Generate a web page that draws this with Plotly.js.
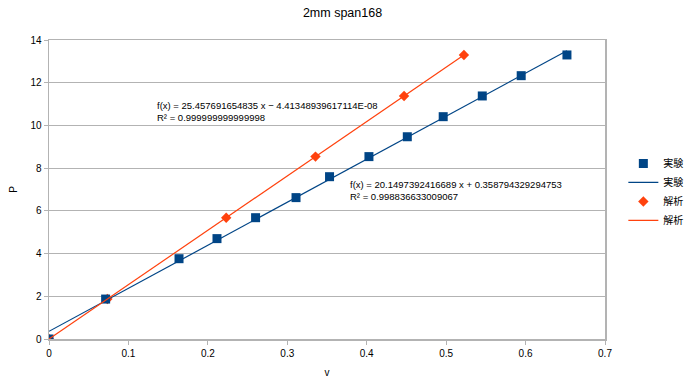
<!DOCTYPE html>
<html>
<head>
<meta charset="utf-8">
<script src="https://cdn.plot.ly/plotly-3.0.1.min.js"></script>
<style>html,body{margin:0;padding:0;background:#fff;}#chart{width:685px;height:387px;}</style>
</head>
<body>
<div id="chart"></div>
<script>
// 実験 (experiment) data
const vExp = [0, 0.0713, 0.1637, 0.2115, 0.2601, 0.3110, 0.3532, 0.4028, 0.4511, 0.4963, 0.5455, 0.5945, 0.6521];
const pExp = [0, 1.87, 3.76, 4.70, 5.68, 6.62, 7.60, 8.54, 9.47, 10.41, 11.38, 12.33, 13.30];
// 解析 (analysis) data
const vAna = [0, 0.0735, 0.2231, 0.3355, 0.4470, 0.5224];
const pAna = [0, 1.87, 5.68, 8.54, 11.38, 13.30];
// trendline coefficients [slope, intercept]
const fitExp = [20.1497392416689, 0.358794329294753];
const fitAna = [25.457691654835, -4.41348939617114e-08];
const seriesNames = ['実験', '解析'];
const xTicks = [0, 0.1, 0.2, 0.3, 0.4, 0.5, 0.6, 0.7];
const yTicks = [0, 2, 4, 6, 8, 10, 12, 14];

const BLUE = '#004586', ORANGE = '#ff420e';
const FONT = 'Liberation Sans, Arial, Noto Sans CJK JP, sans-serif';

function trend(xs, fit) {
  const x0 = Math.min(...xs), x1 = Math.max(...xs);
  return {x: [x0, x1], y: [fit[0] * x0 + fit[1], fit[0] * x1 + fit[1]]};
}
const tE = trend(vExp, fitExp), tA = trend(vAna, fitAna);

const traces = [
  {x: vAna, y: pAna, mode: 'markers', name: seriesNames[1], legendrank: 3, marker: {symbol: 'diamond', size: 8, color: ORANGE}},
  {x: vExp, y: pExp, mode: 'markers', name: seriesNames[0], legendrank: 1, marker: {symbol: 'square', size: 9, color: BLUE}},
  {x: tE.x, y: tE.y, mode: 'lines', name: seriesNames[0], legendrank: 2, line: {color: BLUE, width: 1.2}},
  {x: tA.x, y: tA.y, mode: 'lines', name: seriesNames[1], legendrank: 4, line: {color: ORANGE, width: 1.2}}
];

const layout = {
  width: 685, height: 387,
  margin: {l: 49, r: 80, t: 40, b: 48, pad: 0},
  paper_bgcolor: '#fff', plot_bgcolor: '#fff',
  font: {family: FONT, size: 10, color: '#000'},
  title: {text: '2mm span168', font: {family: FONT, size: 12.5, color: '#000'}, x: 0.5, xref: 'container', y: 0.967, yanchor: 'middle'},
  xaxis: {
    range: [0, 0.7], tickvals: xTicks, ticktext: xTicks.map(String),
    showgrid: false, zeroline: false,
    showline: true, linecolor: '#b3b3b3', linewidth: 1.5, mirror: true,
    ticks: 'outside', ticklen: 4, tickcolor: '#b3b3b3',
    tickfont: {size: 10, color: '#000'},
    title: {text: 'v', font: {size: 10, color: '#000'}, standoff: 11}
  },
  yaxis: {
    range: [0, 14], tickvals: yTicks, ticktext: yTicks.map(String),
    showgrid: true, gridcolor: '#b3b3b3', gridwidth: 1.2, zeroline: false,
    showline: true, linecolor: '#b3b3b3', linewidth: 1.5, mirror: true,
    ticks: 'outside', ticklen: 4, tickcolor: '#b3b3b3',
    tickfont: {size: 10, color: '#000'},
    title: {text: 'P', font: {size: 10, color: '#000'}, standoff: 11}
  },
  legend: {xref: 'container', yref: 'container', x: 0.91, xanchor: 'left', y: 0.504, yanchor: 'middle',
           font: {size: 10, color: '#000'}, bgcolor: 'rgba(0,0,0,0)', tracegroupgap: 0, itemwidth: 30},
  showlegend: true,
  annotations: [
    {x: 0.1335, y: 11.28, xref: 'x', yref: 'y', xanchor: 'left', yanchor: 'top', align: 'left', showarrow: false,
     text: 'f(x) = 25.457691654835 x − 4.41348939617114E-08<br>R² = 0.999999999999998', font: {size: 9.5, color: '#000'}},
    {x: 0.3764, y: 7.58, xref: 'x', yref: 'y', xanchor: 'left', yanchor: 'top', align: 'left', showarrow: false,
     text: 'f(x) = 20.1497392416689 x + 0.358794329294753<br>R² = 0.998836633009067', font: {size: 9.5, color: '#000'}}
  ]
};

Plotly.newPlot('chart', traces, layout, {displayModeBar: false, staticPlot: true});
</script>
</body>
</html>
